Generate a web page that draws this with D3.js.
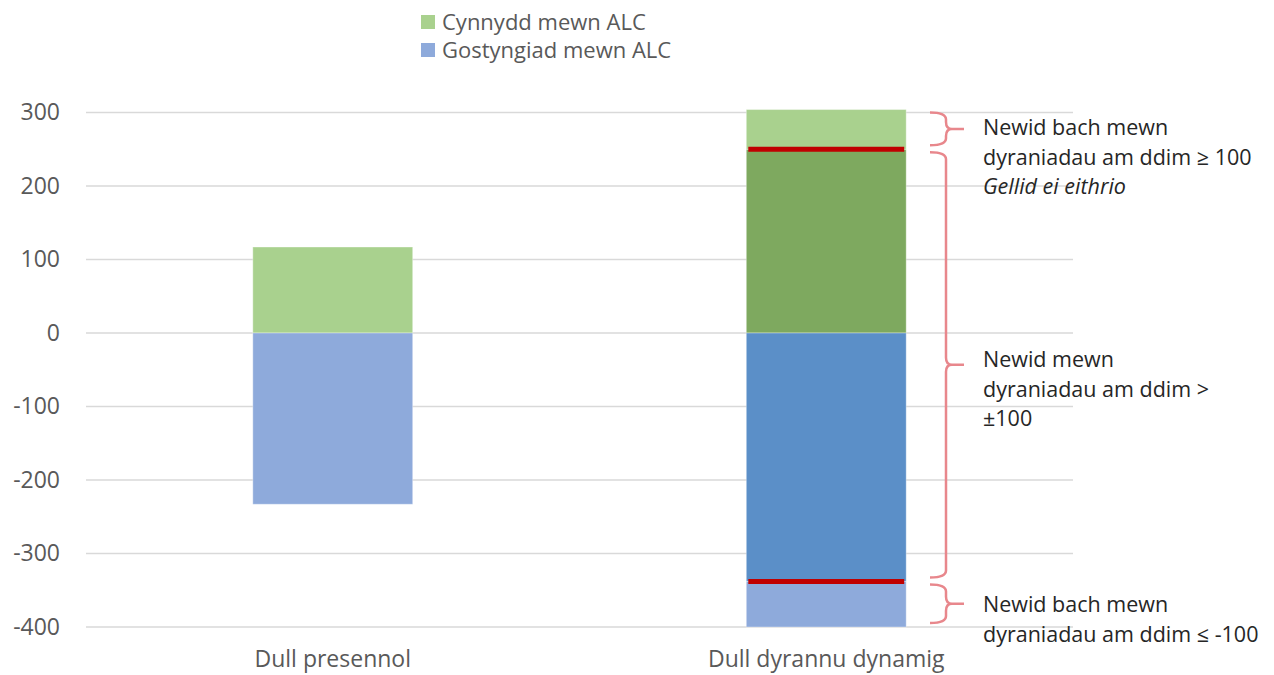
<!DOCTYPE html>
<html>
<head>
<meta charset="utf-8">
<script src="https://cdn.jsdelivr.net/npm/d3@7"></script>
<style>
  body { margin: 0; background: #fff; }
  text { font-family: "Open Sans", sans-serif; }
</style>
</head>
<body>
<svg id="chart" width="1274" height="675"></svg>
<script>
var categories = ["Dull presennol", "Dull dyrannu dynamig"],
    // stacked pieces, bottom-up from zero
    increaseLarge = [0, 250],
    increaseSmall = [117, 54],
    decreaseLarge = [0, -338],
    decreaseSmall = [-233, -62],
    yTicks = [-400, -300, -200, -100, 0, 100, 200, 300],
    legendLabels = ["Cynnydd mewn ALC", "Gostyngiad mewn ALC"],
    noteSmallUp = ["Newid bach mewn", "dyraniadau am ddim \u2265 100", "Gellid ei eithrio"],
    noteLarge = ["Newid mewn", "dyraniadau am ddim >", "\u00b1100"],
    noteSmallDown = ["Newid bach mewn", "dyraniadau am ddim \u2264 -100"];

var svg = d3.select("#chart"),
    COLORS = {
      incLarge: "#7ea95f",
      incSmall: "#a9d18e",
      decLarge: "#5b8fc8",
      decSmall: "#8eaadb"
    },
    keys = ["incLarge", "incSmall", "decLarge", "decSmall"],
    rows = categories.map(function (c, i) {
      return {
        cat: c,
        incLarge: increaseLarge[i],
        incSmall: increaseSmall[i],
        decLarge: decreaseLarge[i],
        decSmall: decreaseSmall[i]
      };
    });

var x = d3.scaleBand().domain(categories).range([86, 1073])
      .paddingInner(0.676).paddingOuter(0.338),
    y = d3.scaleLinear().domain([-400, 300]).range([627, 112.5]);

var series = d3.stack().keys(keys).offset(d3.stackOffsetDiverging)(rows);

// gridlines
svg.append("g").selectAll("line").data(yTicks).join("line")
  .attr("x1", 86).attr("x2", 1073)
  .attr("y1", function (d) { return y(d); })
  .attr("y2", function (d) { return y(d); })
  .attr("stroke", "#d9d9d9").attr("stroke-width", 1.3);

// y axis labels (plain hyphen, like the original)
var yAxis = d3.axisLeft(y).tickValues(yTicks).tickSize(0).tickPadding(0)
  .tickFormat(function (d) { return String(d); });
svg.append("g").attr("transform", "translate(60,0)").call(yAxis)
  .call(function (g) { g.select(".domain").remove(); })
  .selectAll("text")
  .attr("fill", "#595959").style("font-size", "23px")
  .style("font-family", "'Open Sans', sans-serif");

// bars
svg.append("g").selectAll("g").data(series).join("g")
  .attr("fill", function (s) { return COLORS[s.key]; })
  .selectAll("rect").data(function (s) { return s; }).join("rect")
  .filter(function (d) { return d[1] !== d[0]; })
  .attr("x", function (d) { return x(d.data.cat); })
  .attr("width", x.bandwidth())
  .attr("y", function (d) { return y(Math.max(d[0], d[1])); })
  .attr("height", function (d) { return Math.abs(y(d[0]) - y(d[1])); })
  .attr("stroke", "#fff").attr("stroke-opacity", 0.35).attr("stroke-width", 1);

// red threshold lines where a large change is present
var bar2 = categories[1],
    incTop = series[0][1][1],
    decBottom = series[2][1][0],
    thresholds = [incTop, decBottom];
svg.append("g").selectAll("line").data(thresholds).join("line")
  .attr("x1", x(bar2) + 2).attr("x2", x(bar2) + x.bandwidth() - 2)
  .attr("y1", function (d) { return y(d); })
  .attr("y2", function (d) { return y(d); })
  .attr("stroke", "#c00000").attr("stroke-width", 5);

// curly brackets
function brace(top, bottom, xs) {
  var mid = (top + bottom) / 2, r = 7;
  return "M" + (xs - 16) + "," + top +
    " Q" + xs + "," + top + " " + xs + "," + (top + r) +
    " L" + xs + "," + (mid - r) +
    " Q" + xs + "," + mid + " " + (xs + 6) + "," + mid +
    " L" + (xs + 18) + "," + mid +
    " M" + (xs + 6) + "," + mid +
    " Q" + xs + "," + mid + " " + xs + "," + (mid + r) +
    " L" + xs + "," + (bottom - r) +
    " Q" + xs + "," + bottom + " " + (xs - 16) + "," + bottom;
}
var braces = [
  { top: series[1][1][1], bottom: series[1][1][0] },
  { top: series[0][1][1], bottom: series[2][1][0] },
  { top: series[3][1][1], bottom: series[3][1][0] }
];
svg.append("g").selectAll("path").data(braces).join("path")
  .attr("d", function (d) { return brace(y(d.top) + 3, y(d.bottom) - 4, 946); })
  .attr("fill", "none").attr("stroke", "#e8878c").attr("stroke-width", 2.5);

// annotations
var notes = [
  { lines: noteSmallUp, y0: 135 },
  { lines: noteLarge, y0: 367 },
  { lines: noteSmallDown, y0: 612 }
];
notes.forEach(function (n) {
  svg.append("text").attr("x", 983).attr("y", n.y0)
    .attr("fill", "#262626").style("font-size", "21.5px")
    .selectAll("tspan").data(n.lines).join("tspan")
    .attr("x", 983)
    .attr("dy", function (d, i) { return i ? 29.5 : 0; })
    .style("font-style", function (d) { return d === "Gellid ei eithrio" ? "italic" : null; })
    .text(function (d) { return d; });
});

// category labels
svg.append("g").selectAll("text").data(categories).join("text")
  .attr("x", function (d) { return x(d) + x.bandwidth() / 2; })
  .attr("y", 667)
  .attr("text-anchor", "middle")
  .attr("fill", "#595959").style("font-size", "23px")
  .text(function (d) { return d; });

// legend
var legend = svg.append("g").selectAll("g").data(legendLabels).join("g")
  .attr("transform", function (d, i) { return "translate(421," + (15 + i * 28) + ")"; });
legend.append("rect").attr("width", 14).attr("height", 14)
  .attr("fill", function (d, i) { return i ? COLORS.decSmall : COLORS.incSmall; });
legend.append("text").attr("x", 21).attr("y", 15)
  .attr("fill", "#595959").style("font-size", "22px")
  .text(function (d) { return d; });
</script>
</body>
</html>
